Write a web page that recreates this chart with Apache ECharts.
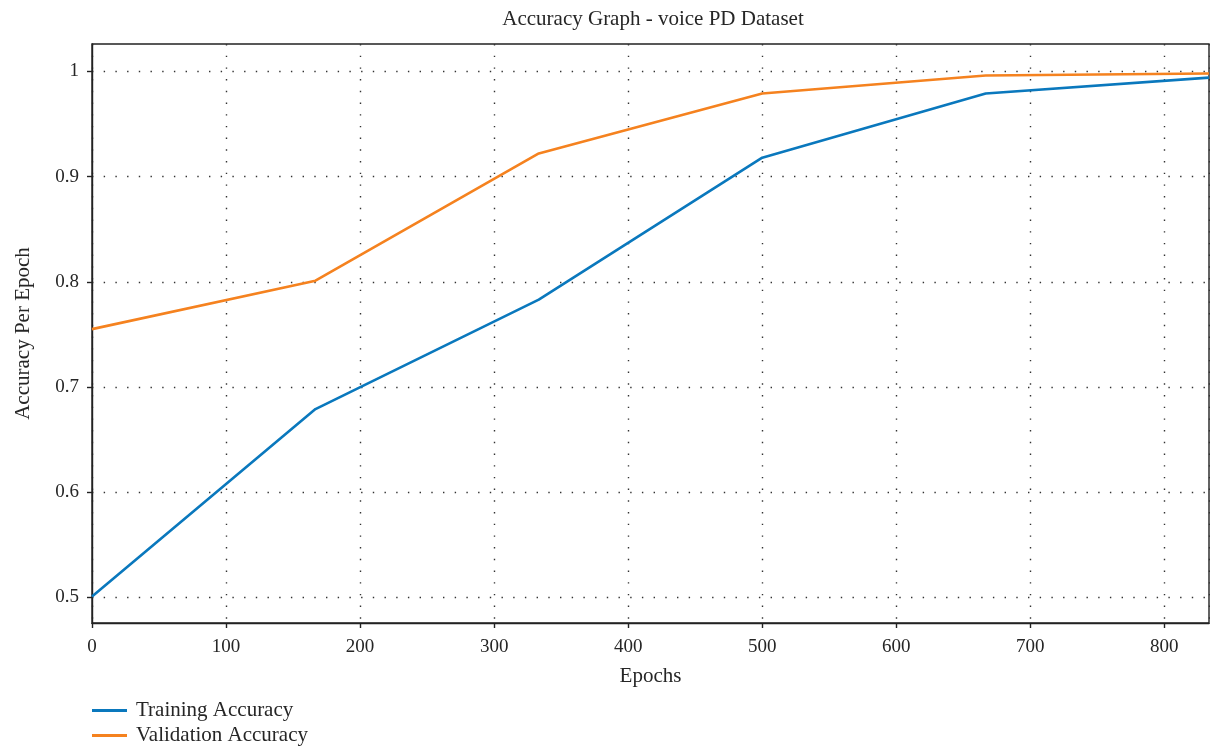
<!DOCTYPE html>
<html>
<head>
<meta charset="utf-8">
<title>Accuracy Graph - voice PD Dataset</title>
<script src="https://cdn.jsdelivr.net/npm/echarts@6/dist/echarts.min.js"></script>
<style>
  html, body { margin: 0; padding: 0; background: #fff; }
  #chart { width: 1210px; height: 750px; }
</style>
</head>
<body>
<div id="chart"></div>
<script>
// Epoch checkpoints and accuracies
const epochs = [0, 166.7, 333.3, 500, 666.7, 833.3];
const trainingAccuracy = [0.501, 0.679, 0.783, 0.918, 0.979, 0.994];
const validationAccuracy = [0.755, 0.801, 0.922, 0.979, 0.996, 0.998];
const yTicks = [0.5, 0.6, 0.7, 0.8, 0.9, 1];
const seriesNames = ['Training Accuracy', 'Validation Accuracy'];

const FONT = 'Liberation Serif';
const TEXT = '#262626';
const GRID_DOTS = { color: '#333', width: 1.4, type: [1.4, 10.3] };

const chart = echarts.init(document.getElementById('chart'), null, { renderer: 'canvas' });

const toPairs = (xs, ys) => xs.map((x, i) => [x, ys[i]]);

chart.setOption({
  backgroundColor: '#fff',
  animation: false,
  title: {
    text: 'Accuracy Graph - voice PD Dataset',
    left: 648, top: 4, textAlign: 'center',
    textStyle: { fontFamily: FONT, fontSize: 21, fontWeight: 'normal', color: TEXT }
  },
  grid: {
    left: 92, right: 1, top: 44, bottom: 127,
    show: true, borderColor: '#222', borderWidth: 1.4, backgroundColor: 'transparent'
  },
  legend: {
    orient: 'vertical', left: 92, top: 700, padding: 0,
    itemWidth: 35, itemHeight: 3, itemGap: 4, icon: 'rect',
    textStyle: { fontFamily: FONT, fontSize: 21, color: TEXT, padding: [0, 0, 0, 4] },
    data: seriesNames
  },
  xAxis: {
    type: 'value', min: 0, max: epochs[epochs.length - 1], interval: 100,
    name: 'Epochs', nameLocation: 'middle', nameGap: 43,
    nameTextStyle: { fontFamily: FONT, fontSize: 21, color: TEXT },
    axisLine: { show: true, lineStyle: { color: '#222', width: 1.4 } },
    axisTick: { show: true, inside: false, length: 5, lineStyle: { color: '#222', width: 1.4 } },
    axisLabel: { fontFamily: FONT, fontSize: 19, color: TEXT, margin: 15, showMaxLabel: false },
    splitLine: { show: true, lineStyle: GRID_DOTS }
  },
  yAxis: {
    type: 'value', min: 0.4757, max: 1.026,
    name: 'Accuracy Per Epoch', nameLocation: 'middle', nameGap: 58, nameRotate: 90,
    nameTextStyle: { fontFamily: FONT, fontSize: 21, color: TEXT },
    axisLine: { show: true, lineStyle: { color: '#222', width: 1.4 } },
    axisTick: { show: true, inside: false, length: 5, customValues: yTicks, lineStyle: { color: '#222', width: 1.4 } },
    axisLabel: { fontFamily: FONT, fontSize: 19, color: TEXT, margin: 13, customValues: yTicks,
                 formatter: v => String(+v.toFixed(1)) },
    splitLine: { show: true, lineStyle: GRID_DOTS }
  },
  series: [
    {
      name: seriesNames[0], type: 'line', data: toPairs(epochs, trainingAccuracy),
      symbol: 'none', color: '#0A78BD', lineStyle: { width: 2.6 }, z: 3
    },
    {
      name: seriesNames[1], type: 'line', data: toPairs(epochs, validationAccuracy),
      symbol: 'none', color: '#F5821F', lineStyle: { width: 2.6 }, z: 4
    }
  ]
});
</script>
</body>
</html>
